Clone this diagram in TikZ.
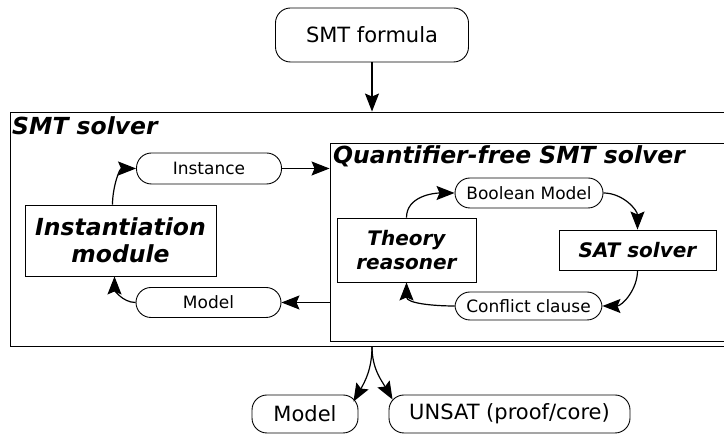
\documentclass[tikz,border=0pt]{standalone}
\usepackage{fontspec}
\setmainfont{DejaVu Sans}
\usepackage{tikz}
\usetikzlibrary{arrows.meta}
\tikzstyle{Term}=[rectangle, rounded corners=15pt, draw=black, line width=0.9pt, inner sep=0pt, font=\fontsize{21}{25}\selectfont]
\tikzstyle{Msg}=[rectangle, rounded corners=15pt, draw=black, line width=0.9pt, inner sep=0pt, font=\fontsize{17}{20}\selectfont]
\tikzstyle{Module}=[rectangle, draw=black, line width=0.9pt, inner sep=0pt, align=center, font=\fontsize{20}{24}\selectfont\bfseries\itshape]
\tikzstyle{Frame}=[rectangle, draw=black, line width=0.9pt, inner sep=0pt]
\tikzstyle{Title}=[anchor=base west, inner sep=0pt, font=\fontsize{23.5}{28}\selectfont\bfseries\itshape]
\tikzstyle{Flow}=[line width=1.2pt, -{Stealth[length=18pt,width=14pt,inset=3pt]}]

\begin{document}
\begin{tikzpicture}[x=1pt, y=1pt]
    \useasboundingbox (0,0) rectangle (724,435);
    \clip (0,0) rectangle (724,435);
    \path
    (372,400) node[Term, minimum width=193, minimum height=54] (formula) {SMT formula}
    (380,206) node[Frame, minimum width=740, minimum height=234] (solver) {}
    (540,193) node[Frame, minimum width=420, minimum height=198] (qfsolver) {}
    (209,266.5) node[Msg, minimum width=145, minimum height=31] (instance) {Instance}
    (120.5,194.5) node[Module, minimum width=191, minimum height=71, font=\fontsize{23.5}{27}\selectfont\bfseries\itshape] (instmod) {Instantiation\\module}
    (208.5,132.5) node[Msg, minimum width=145, minimum height=30] (model) {Model}
    (529,242) node[Msg, minimum width=148, minimum height=30] (boolmodel) {Boolean Model}
    (406.5,185) node[Module, minimum width=139, minimum height=64] (theory) {Theory\\reasoner}
    (637.5,185) node[Module, minimum width=157, minimum height=40] (sat) {SAT solver}
    (528.5,129) node[Msg, minimum width=147, minimum height=28] (conflict) {Conflict clause}
    (305,21) node[Term, minimum width=106, minimum height=38] (outmodel) {Model}
    (509.5,21) node[Term, minimum width=241, minimum height=38] (unsat) {UNSAT (proof/core)};
    \path (12,300) node[Title] (solvername) {SMT solver}
    (333,271) node[Title] (qfname) {Quantifier-free SMT solver};

    \draw[Flow] (formula.south) -- (formula.south |- solver.north);
    \draw[Flow] ([xshift=-8pt]instmod.north) to[out=90, in=180] (instance.west);
    \draw[Flow] (instance.east) -- (instance.east -| qfsolver.west);
    \draw[Flow] (model.east -| qfsolver.west) -- (model.east);
    \draw[Flow] (model.west) to[out=180, in=-90] ([xshift=-6pt]instmod.south);

    \draw[Flow] (theory.north) to[out=90, in=180] (boolmodel.west);
    \draw[Flow] (boolmodel.east) to[out=0, in=90] (sat.north);
    \draw[Flow] (sat.south) to[out=-90, in=0] (conflict.east);
    \draw[Flow] (conflict.west) to[out=180, in=-90] (theory.south);

    \coordinate (split) at (formula.south |- solver.south);
    \draw[Flow] (split) to[out=-90, in=60] ([shift={(-5pt,-7pt)}]outmodel.north east);
    \draw[Flow] (split) to[out=-90, in=120] ([shift={(4pt,-5pt)}]unsat.north west);
\end{tikzpicture}
\end{document}
